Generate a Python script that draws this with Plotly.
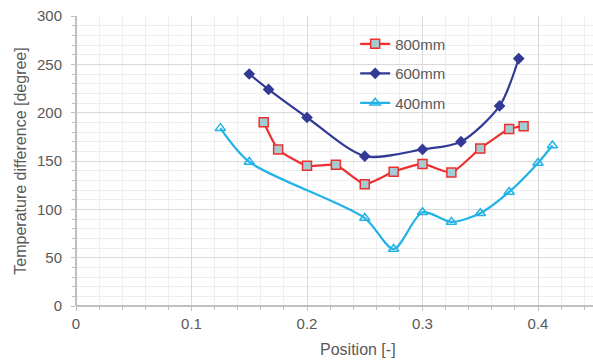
import plotly.graph_objects as go

x800 = [0.1625, 0.175, 0.2, 0.225, 0.25, 0.275, 0.3, 0.325, 0.35, 0.375, 0.3875]
y800 = [190, 162, 145, 146, 126, 139, 147, 138, 163, 183, 186]

x600 = [0.15, 0.1667, 0.2, 0.25, 0.3, 0.3333, 0.3667, 0.3833]
y600 = [240, 224, 195, 155, 162, 170, 207, 256]

x400 = [0.125, 0.15, 0.25, 0.275, 0.3, 0.325, 0.35, 0.375, 0.4, 0.4125]
y400 = [184, 149, 91, 59, 97, 87, 96, 118, 148, 166]

RED = "#EE2F30"
BLUE = "#323A96"
CYAN = "#22B2E6"
FILL = "#A6CCD3"
GRAY = "#595959"

fig = go.Figure()
fig.add_trace(go.Scatter(x=x800, y=y800, name="800mm", mode="lines+markers", legendgroup="a",
                         line=dict(color=RED, width=2.2, shape="spline", smoothing=0.5),
                         marker=dict(symbol="square", size=9, color=FILL,
                                     line=dict(color=RED, width=1.5))))
fig.add_trace(go.Scatter(x=x600, y=y600, name="600mm", mode="lines+markers", legendgroup="b",
                         line=dict(color=BLUE, width=2.2, shape="spline", smoothing=0.8),
                         marker=dict(symbol="diamond", size=9, color=BLUE)))
fig.add_trace(go.Scatter(x=x400, y=y400, name="400mm", mode="lines+markers", legendgroup="c",
                         line=dict(color=CYAN, width=2.2, shape="spline", smoothing=0.8),
                         marker=dict(symbol="triangle-up-open", size=9, color=CYAN,
                                     line=dict(color=CYAN, width=1.5))))

font = "Liberation Sans, Arial, sans-serif"
fig.update_layout(
    width=593, height=360,
    margin=dict(l=76, r=0, t=16, b=54),
    paper_bgcolor="white", plot_bgcolor="white",
    font=dict(family=font, size=15, color=GRAY),
    showlegend=True,
    legend=dict(x=0.54, y=0.96, xanchor="left", yanchor="top",
                bgcolor="rgba(0,0,0,0)", font=dict(size=15, color=GRAY),
                tracegroupgap=7, itemwidth=30),
    xaxis=dict(range=[0, 0.4476], tickvals=[0, 0.1, 0.2, 0.3, 0.4],
               ticktext=["0", "0.1", "0.2", "0.3", "0.4"],
               showgrid=True, gridcolor="#D9D9D9", gridwidth=1,
               minor=dict(dtick=0.02, showgrid=True, gridcolor="#EEEEEE",
                          ticks="outside", ticklen=3, tickcolor="#BFBFBF"),
               showline=False, zeroline=True, zerolinecolor="#BFBFBF",
               ticks="outside", ticklen=4, tickcolor="#BFBFBF",
               tickfont=dict(size=15, color=GRAY)),
    yaxis=dict(range=[0, 300], dtick=50,
               showgrid=True, gridcolor="#D9D9D9", gridwidth=1,
               minor=dict(dtick=10, showgrid=True, gridcolor="#EEEEEE",
                          ticks="outside", ticklen=3, tickcolor="#BFBFBF"),
               showline=False, zeroline=True, zerolinecolor="#BFBFBF",
               ticks="outside", ticklen=4, tickcolor="#BFBFBF",
               ticklabelstandoff=6,
               title=dict(text="Temperature difference [degree]", standoff=6,
                          font=dict(size=16, color=GRAY)),
               tickfont=dict(size=15, color=GRAY)),
    annotations=[dict(text="Position [-]", xref="paper", yref="paper",
                      x=(358 - 76) / 517, y=0, yshift=-43, xanchor="center",
                      yanchor="middle", showarrow=False,
                      font=dict(size=16, color=GRAY))],
)

fig.write_html("out.html")
